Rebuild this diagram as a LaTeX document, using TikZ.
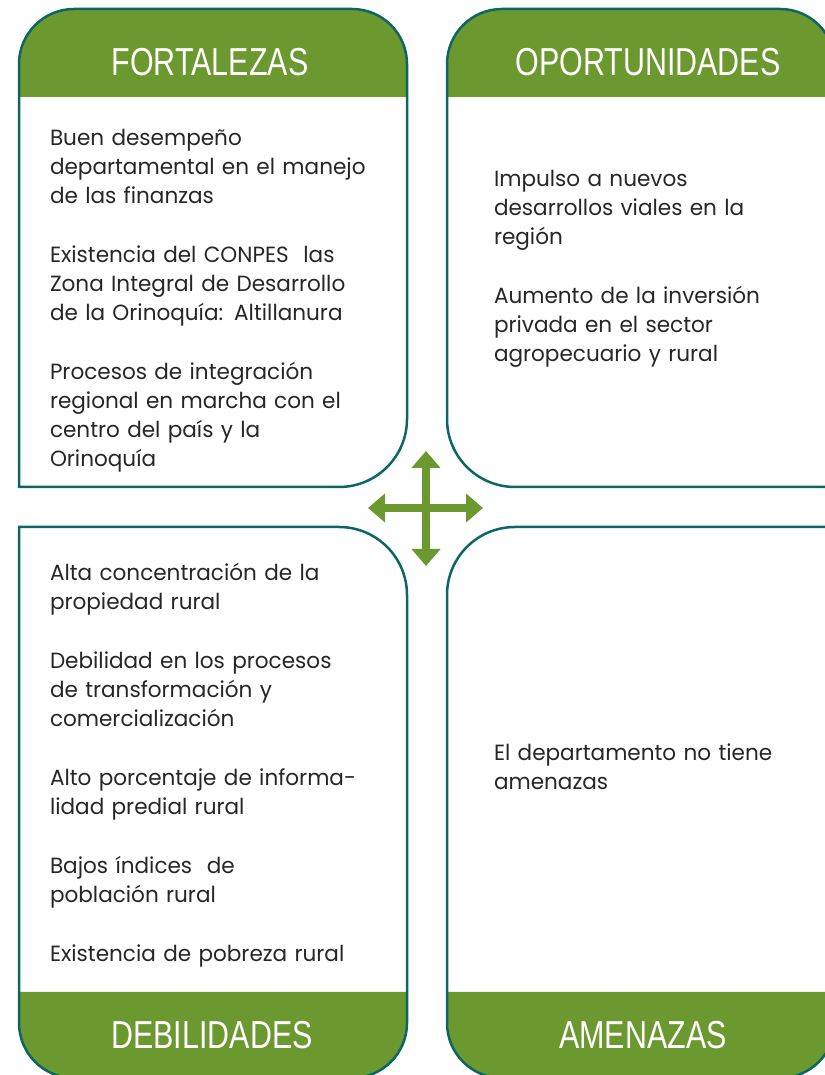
\documentclass[tikz,border=0pt]{standalone}
\usepackage{fontspec}
\setmainfont[FakeStretch=0.98]{Poppins}
\newfontfamily\headfont[FakeStretch=0.78]{Liberation Sans}
\usetikzlibrary{arrows.meta,positioning}
\definecolor{swotgreen}{HTML}{6B982F}
\definecolor{swotteal}{HTML}{0D6663}
\definecolor{swottext}{HTML}{262626}

\begin{document}
\begin{tikzpicture}[x=1pt, y=1pt, node distance=30pt,
    every node/.style={inner sep=0pt, outer sep=0pt},
    swotitem/.style={text width=350pt, align=left, anchor=north west, text=swottext, font=\fontsize{22}{29}\selectfont},
    headtext/.style={text=white, font=\headfont\fontsize{39}{39}\selectfont},
    boxline/.style={draw=swotteal, line width=2.5pt},
    band/.style={fill=swotgreen},
    cross/.style={draw=swotgreen, line width=8pt, {Triangle[width=28pt,length=17pt]}-{Triangle[width=28pt,length=17pt]}}]
      \useasboundingbox (0,0) rectangle (824,1075);

      % green bands
      \fill[band] (19,978) -- (19,1011) arc[start angle=180, end angle=90, radius=55pt] -- (352,1066) arc[start angle=90, end angle=0, radius=55pt] -- (407,978) -- cycle;
      \fill[band] (447,978) -- (447,1011) arc[start angle=180, end angle=90, radius=55pt] -- (780,1066) arc[start angle=90, end angle=0, radius=55pt] -- (835,978) -- cycle;
      \fill[band] (19,83) -- (19,52) arc[start angle=180, end angle=270, radius=55pt] -- (352,-3) arc[start angle=270, end angle=360, radius=55pt] -- (407,83) -- cycle;
      \fill[band] (447,83) -- (447,52) arc[start angle=180, end angle=270, radius=55pt] -- (780,-3) arc[start angle=270, end angle=360, radius=55pt] -- (835,83) -- cycle;

      % boxes
      \draw[boxline] (19,588) -- (19,1011) arc[start angle=180, end angle=90, radius=55pt] -- (352,1066) arc[start angle=90, end angle=0, radius=55pt] -- (407,656) arc[start angle=0, end angle=-90, radius=68pt] -- cycle;
      \draw[boxline] (835,588) -- (515,588) arc[start angle=270, end angle=180, radius=68pt] -- (447,1011) arc[start angle=180, end angle=90, radius=55pt] -- (780,1066) arc[start angle=90, end angle=0, radius=55pt] -- cycle;
      \draw[boxline] (19,548) -- (19,52) arc[start angle=180, end angle=270, radius=55pt] -- (352,-3) arc[start angle=270, end angle=360, radius=55pt] -- (407,480) arc[start angle=0, end angle=90, radius=68pt] -- cycle;
      \draw[boxline] (835,548) -- (515,548) arc[start angle=90, end angle=180, radius=68pt] -- (447,52) arc[start angle=180, end angle=270, radius=55pt] -- (780,-3) arc[start angle=270, end angle=360, radius=55pt] -- cycle;

      % titles
      \node[headtext] (fort) at (210,1013) {FORTALEZAS};
      \node[headtext] (opor) at (648,1013) {OPORTUNIDADES};
      \node[headtext] (debi) at (212,40) {DEBILIDADES};
      \node[headtext] (amen) at (643,40) {AMENAZAS};

      % fortalezas
      \node[swotitem] (f1) at (50,950) {\strut Buen desempeño\\departamental en el manejo\\de las finanzas\strut};
      \node[swotitem, below=of f1] (f2) {\strut Existencia del CONPES\ \ las\\Zona Integral de Desarrollo\\de la Orinoquía: Altillanura\strut};
      \node[swotitem, below=of f2] (f3) {\strut Procesos de integración\\regional en marcha con el\\centro del país y la\\Orinoquía\strut};

      % oportunidades
      \node[swotitem] (o1) at (494,909) {\strut Impulso a nuevos\\desarrollos viales en la\\región\strut};
      \node[swotitem, below=of o1] (o2) {\strut Aumento de la inversión\\privada en el sector\\agropecuario y rural\strut};

      % debilidades
      \node[swotitem] (d1) at (50,515) {\strut Alta concentración de la\\propiedad rural\strut};
      \node[swotitem, below=of d1] (d2) {\strut Debilidad en los procesos\\de transformación y\\comercialización\strut};
      \node[swotitem, below=of d2] (d3) {\strut Alto porcentaje de informa-\\lidad predial rural\strut};
      \node[swotitem, below=of d3] (d4) {\strut Bajos índices\ \ de\\población rural\strut};
      \node[swotitem, below=of d4] (d5) {\strut Existencia de pobreza rural\strut};

      % amenazas
      \node[swotitem] (a1) at (494,335) {\strut El departamento no tiene\\amenazas\strut};

      % center cross
      \coordinate (cw) at (368,567);
      \coordinate (ce) at (483,567);
      \coordinate (cn) at (426,624);
      \coordinate (cs) at (426,509);
      \draw[cross] (cw) -- (ce);
      \draw[cross] (cs) -- (cn);
    \end{tikzpicture}
\end{document}
